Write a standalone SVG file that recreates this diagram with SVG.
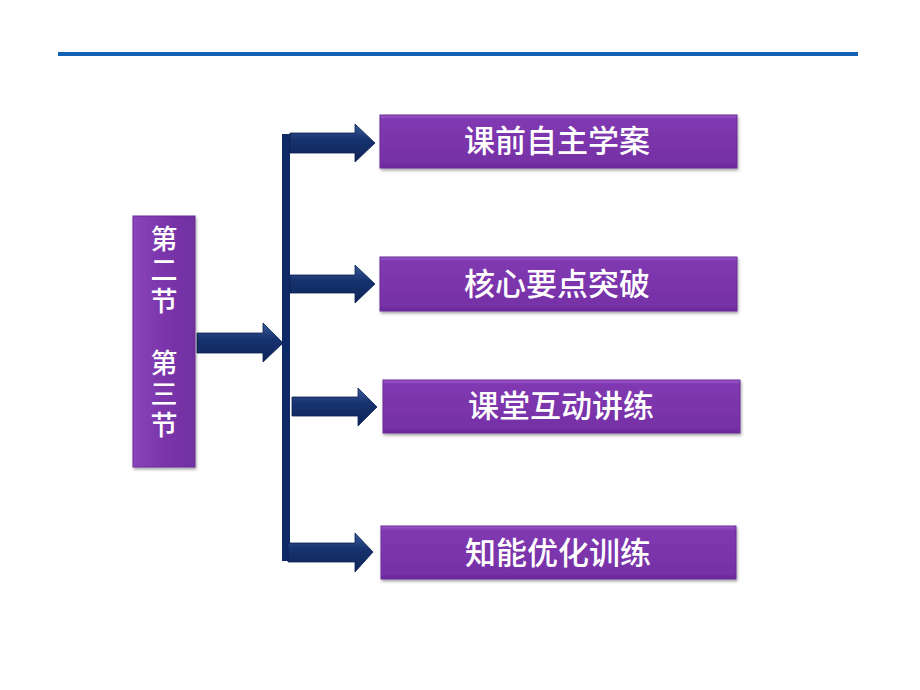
<svg xmlns="http://www.w3.org/2000/svg" width="920" height="690" viewBox="0 0 920 690">
<defs>
<linearGradient id="pg" x1="0" y1="0" x2="0" y2="1">
<stop offset="0" stop-color="#9b5cc9"/>
<stop offset="0.08" stop-color="#8139b2"/>
<stop offset="0.9" stop-color="#7631a6"/>
<stop offset="1" stop-color="#6a2896"/>
</linearGradient>
<linearGradient id="pgv" x1="0" y1="0" x2="1" y2="0">
<stop offset="0" stop-color="#8a45ba"/>
<stop offset="0.5" stop-color="#7b35ab"/>
<stop offset="1" stop-color="#7030a0"/>
</linearGradient>
<linearGradient id="ag" x1="0" y1="0" x2="0" y2="1">
<stop offset="0" stop-color="#3a5a9a"/>
<stop offset="0.4" stop-color="#17336f"/>
<stop offset="1" stop-color="#0c2458"/>
</linearGradient>
<filter id="sh" x="-5%" y="-10%" width="110%" height="130%">
<feDropShadow dx="1" dy="2" stdDeviation="1.5" flood-color="#000" flood-opacity="0.35"/>
</filter>
</defs>
<style>
.box{fill:url(#pg);stroke:#6a2a98;stroke-width:1;filter:url(#sh)}
.t{font-family:"Noto Sans CJK SC","Noto Sans CJK TC",sans-serif;font-size:31px;font-weight:500;fill:#ffffff;text-anchor:middle}
.v{font-family:"Noto Sans CJK SC","Noto Sans CJK TC",sans-serif;font-size:27px;font-weight:500;fill:#ffffff;writing-mode:vertical-rl}
.arr{fill:url(#ag);stroke:#0a1f50;stroke-width:0.8}
</style>
<rect x="58" y="52" width="800" height="4" fill="#1162b4"/>
<g id="connectors">
<rect x="282" y="134" width="8" height="427" fill="#0e2a66"/>
<path class="arr" d="M197,333 H263 V323 L283,343 L263,362 V353 H197 Z"/>
<path class="arr" d="M290,133 H355 V124 L375,143 L355,162 V153 H290 Z"/>
<path class="arr" d="M290,275 H355 V265 L375,284 L355,303 V293 H290 Z"/>
<path class="arr" d="M292,397 H358 V388 L377,407 L358,426 V416 H292 Z"/>
<path class="arr" d="M288,543 H355 V533 L373,552 L355,572 V562 H288 Z"/>
</g>
<g id="n0">
<rect x="133" y="216" width="62" height="251" fill="url(#pgv)" stroke="#6a2a98" stroke-width="1" filter="url(#sh)"/>
<text class="v" x="164" y="225">第</text>
<text class="v" x="164" y="256">二</text>
<text class="v" x="164" y="287">节</text>
<text class="v" x="164" y="349">第</text>
<text class="v" x="164" y="380">三</text>
<text class="v" x="164" y="411">节</text>
</g>
<g id="n1">
<rect class="box" x="380" y="115" width="357" height="53"/>
<text class="t" x="557" y="152">课前自主学案</text>
</g>
<g id="n2">
<rect class="box" x="380" y="257" width="357" height="54"/>
<text class="t" x="557" y="295">核心要点突破</text>
</g>
<g id="n3">
<rect class="box" x="383" y="380" width="357" height="53"/>
<text class="t" x="561" y="417">课堂互动讲练</text>
</g>
<g id="n4">
<rect class="box" x="381" y="526" width="355" height="53"/>
<text class="t" x="558" y="564">知能优化训练</text>
</g>
</svg>
